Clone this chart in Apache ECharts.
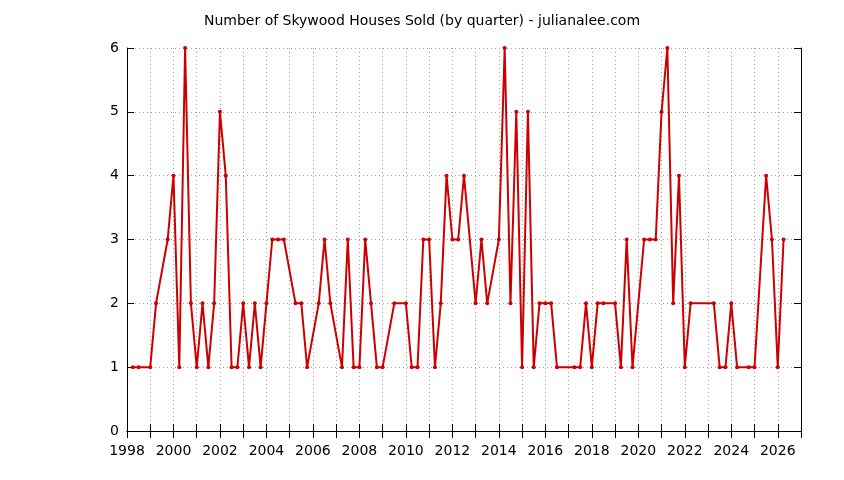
<!DOCTYPE html>
<html>
<head>
<meta charset="utf-8">
<script src="https://cdn.jsdelivr.net/npm/echarts@6/dist/echarts.min.js"></script>
<style>html,body{margin:0;padding:0;background:#fff}#c{width:844px;height:480px}</style>
</head>
<body>
<div id="c"></div>
<script>
var quarters = [1998.25,1998.5,1999.0,1999.25,1999.75,2000.0,2000.25,2000.5,2000.75,2001.0,2001.25,2001.5,2001.75,2002.0,2002.25,2002.5,2002.75,2003.0,2003.25,2003.5,2003.75,2004.0,2004.25,2004.5,2004.75,2005.25,2005.5,2005.75,2006.25,2006.5,2006.75,2007.25,2007.5,2007.75,2008.0,2008.25,2008.5,2008.75,2009.0,2009.5,2010.0,2010.25,2010.5,2010.75,2011.0,2011.25,2011.5,2011.75,2012.0,2012.25,2012.5,2013.0,2013.25,2013.5,2014.0,2014.25,2014.5,2014.75,2015.0,2015.25,2015.5,2015.75,2016.0,2016.25,2016.5,2017.25,2017.5,2017.75,2018.0,2018.25,2018.5,2019.0,2019.25,2019.5,2019.75,2020.25,2020.5,2020.75,2021.0,2021.25,2021.5,2021.75,2022.0,2022.25,2023.25,2023.5,2023.75,2024.0,2024.25,2024.75,2025.0,2025.5,2025.75,2026.0,2026.25];
var housesSold = [1,1,1,2,3,4,1,6,2,1,2,1,2,5,4,1,1,2,1,2,1,2,3,3,3,2,2,1,2,3,2,1,3,1,1,3,2,1,1,2,2,1,1,3,3,1,2,4,3,3,4,2,3,2,3,6,2,5,1,5,1,2,2,2,1,1,1,2,1,2,2,2,1,3,1,3,3,3,5,6,2,4,1,2,2,1,1,2,1,1,1,4,3,1,3];
var titleText = 'Number of Skywood Houses Sold (by quarter) - julianalee.com';

var pairs = quarters.map(function(q, i){ return [q, housesSold[i]]; });
var font = 'DejaVu Sans';
var chart = echarts.init(document.getElementById('c'), null, {renderer:'canvas'});
var axisLine = {show:true, lineStyle:{color:'#000', width:1}};
var grid = {show:true, lineStyle:{color:'#a0a0a0', type:[1,3], width:1}};
chart.setOption({
  animation:false,
  backgroundColor:'#fff',
  title:{text:titleText, left:'center', top:9, textStyle:{fontFamily:font, fontSize:14, fontWeight:'normal', color:'#000'}},
  grid:{left:127, right:43, top:48, bottom:49, containLabel:false},
  xAxis:[
    {type:'value', min:1998, max:2027, interval:1, position:'bottom',
     axisLine:axisLine, axisTick:{show:true, inside:true, length:7, lineStyle:{color:'#000'}},
     axisLabel:{fontFamily:font, fontSize:14, color:'#000', margin:13, showMaxLabel:false,
       formatter:function(v){ return (v % 2 === 0 && v <= 2026) ? String(v) : ''; }},
     splitLine:grid},
    {type:'value', min:1998, max:2027, interval:1, position:'top',
     axisLine:axisLine, axisTick:{show:true, inside:true, length:7, lineStyle:{color:'#000'}},
     axisLabel:{show:false}, splitLine:{show:false}}
  ],
  yAxis:[
    {type:'value', min:0, max:6, interval:1, position:'left',
     axisLine:axisLine, axisTick:{show:true, inside:true, length:7, lineStyle:{color:'#000'}},
     axisLabel:{fontFamily:font, fontSize:14, color:'#000', margin:8},
     splitLine:grid},
    {type:'value', min:0, max:6, interval:1, position:'right',
     axisLine:axisLine, axisTick:{show:true, inside:true, length:7, lineStyle:{color:'#000'}},
     axisLabel:{show:false}, splitLine:{show:false}}
  ],
  series:[{
    type:'line', xAxisIndex:0, yAxisIndex:0, data:pairs,
    lineStyle:{color:'#cc0000', width:2},
    itemStyle:{color:'#cc0000'},
    symbol:'circle', symbolSize:4, showAllSymbol:true, clip:false
  }]
});
</script>
</body>
</html>
